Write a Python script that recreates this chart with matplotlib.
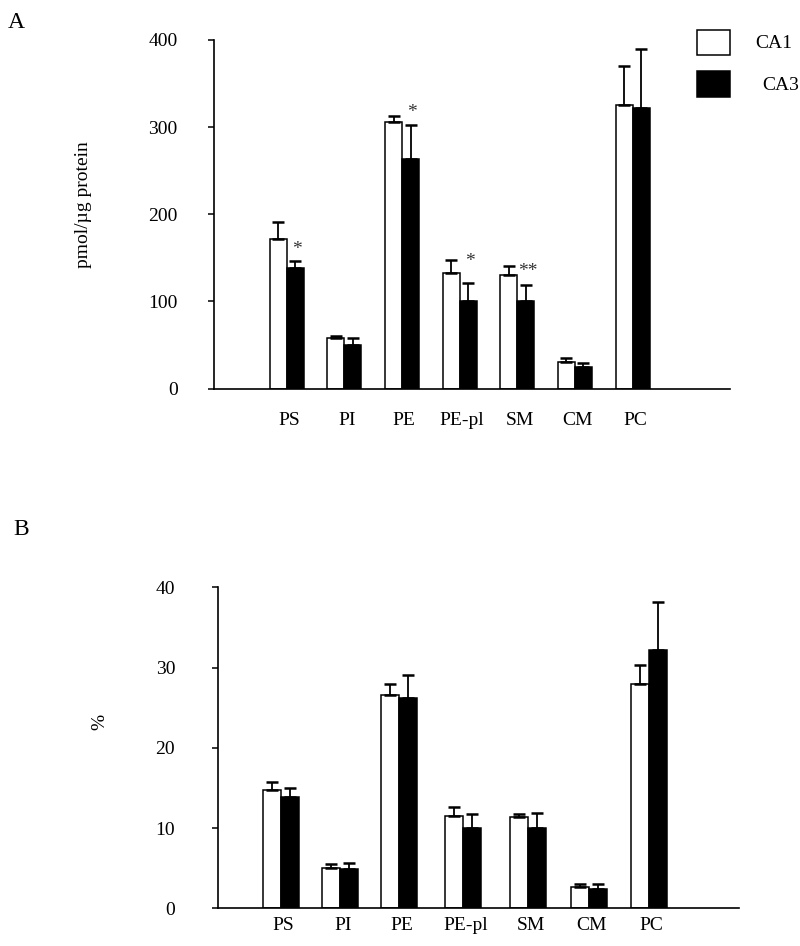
import matplotlib
matplotlib.use("Agg")
import matplotlib.pyplot as plt
from matplotlib.patches import Rectangle
import numpy as np

plt.rcParams['font.family'] = ['Liberation Serif', 'DejaVu Serif']

categories = ["PS", "PI", "PE", "PE-pl", "SM", "CM", "PC"]
series_names = ["CA1", "CA3"]

# Panel A: pmol/µg protein
a_ca1 = [171.5, 58.2, 305.5, 132.0, 130.2, 30.6, 325.4]
a_ca1_err = [19.5, 2.3, 7.5, 15.4, 10.7, 4.6, 45.2]
a_ca3 = [137.8, 49.4, 263.7, 100.7, 100.7, 24.5, 322.3]
a_ca3_err = [8.8, 8.8, 39.1, 20.3, 18.3, 5.0, 67.4]
a_yticks = [0, 100, 200, 300, 400]

# significance marks (panel A, above CA3 bars)
sig_marks = ["*", "", "*", "*", "**", "", ""]
sig_y = [159, 0, 317, 146, 134, 0, 0]

# Panel B: %
b_ca1 = [14.8, 5.06, 26.56, 11.5, 11.33, 2.69, 28.0]
b_ca1_err = [1.0, 0.45, 1.35, 1.08, 0.42, 0.37, 2.3]
b_ca3 = [13.83, 4.9, 26.25, 10.03, 10.04, 2.4, 32.2]
b_ca3_err = [1.22, 0.78, 2.87, 1.72, 1.84, 0.6, 6.0]
b_yticks = [0, 10, 20, 30, 40]

W, H = 800, 946
fig = plt.figure(figsize=(W / 100, H / 100), dpi=100)

def px_axes(left, right, top, bottom):
    return fig.add_axes([left / W, 1 - bottom / H, (right - left) / W, (bottom - top) / H])

axA = px_axes(213.7, 730, 40, 388.5)
axB = px_axes(218.3, 739.3, 587.3, 908.3)

posA = np.arange(len(categories), dtype=float)
posB = np.array([0, 0.971, 1.927, 2.974, 4.028, 5.021, 6.0])

def draw(ax, pos, v1, e1, v3, e3, w, yticks, xlim, tickpad, xpad):
    ekw = dict(elinewidth=1.3, capsize=4, capthick=1.8, ecolor='black')
    ax.bar(pos - w / 2, v1, w, color='white', edgecolor='black', linewidth=1.1,
           yerr=[np.zeros(len(e1)), e1], error_kw=ekw, zorder=2)
    ax.bar(pos + w / 2, v3, w, color='black', edgecolor='black', linewidth=1.1,
           yerr=[np.zeros(len(e3)), e3], error_kw=ekw, zorder=2)
    ax.set_xlim(*xlim)
    ax.set_ylim(yticks[0], yticks[-1])
    ax.set_yticks(yticks)
    ax.set_xticks(pos + 0.04)
    ax.set_xticklabels(categories, fontsize=14)
    ax.tick_params(axis='x', length=0, pad=xpad)
    ax.tick_params(axis='y', direction='out', length=4, width=1.1, labelsize=14, pad=tickpad)
    for s in ['top', 'right']:
        ax.spines[s].set_visible(False)
    for s in ['left', 'bottom']:
        ax.spines[s].set_linewidth(1.2)
    ax.set_facecolor('none')

wA = 17 / 57.6
wB = 18 / 61.4
draw(axA, posA, a_ca1, a_ca1_err, a_ca3, a_ca3_err, wA, a_yticks, (-1.267, 7.69), 22, 17)
draw(axB, posB, b_ca1, b_ca1_err, b_ca3, b_ca3_err, wB, b_yticks, (-1.016, 7.469), 27, 6.5)

for i, m in enumerate(sig_marks):
    if m:
        axA.text(posA[i] + wA / 2 + 0.03, sig_y[i], m, ha='center', va='center',
                 fontsize=14, color='#333333')

# y labels
fig.text(83 / W, 1 - 205 / H, "pmol/µg protein", rotation=90, ha='center', va='center', fontsize=14)
fig.text(100 / W, 1 - 722 / H, "%", rotation=90, ha='center', va='center', fontsize=14)

# panel letters
fig.text(8 / W, 1 - 28 / H, "A", ha='left', va='baseline', fontsize=17)
fig.text(13 / W, 1 - 535 / H, "B", ha='left', va='baseline', fontsize=17)

# legend
fig.add_artist(Rectangle((697.3 / W, 1 - 55 / H), 32.7 / W, 25 / H, transform=fig.transFigure,
                         facecolor='white', edgecolor='black', linewidth=1.1))
fig.add_artist(Rectangle((697.3 / W, 1 - 97 / H), 32.7 / W, 26 / H, transform=fig.transFigure,
                         facecolor='black', edgecolor='black', linewidth=1.1))
fig.text(755 / W, 1 - 44 / H, series_names[0], ha='left', va='center', fontsize=14)
fig.text(762 / W, 1 - 85 / H, series_names[1], ha='left', va='center', fontsize=14)

fig.savefig("out.png", dpi=100)
